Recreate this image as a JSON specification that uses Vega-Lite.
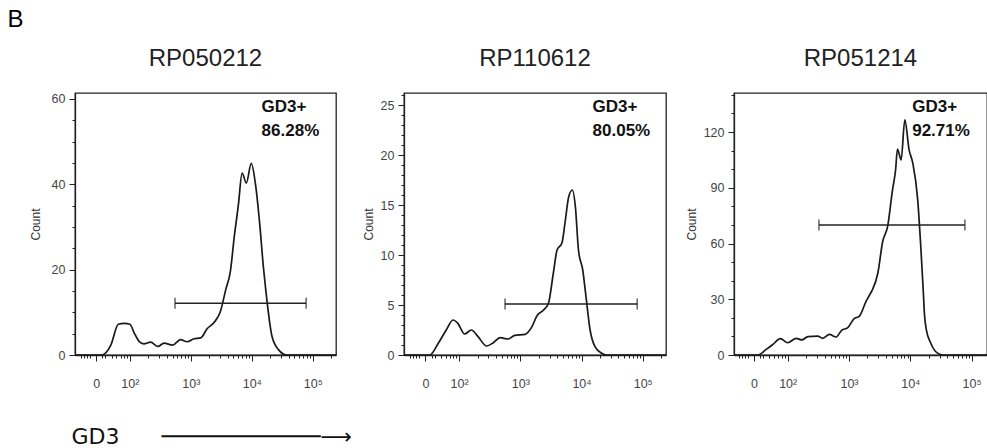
{
  "$schema": "https://vega.github.io/schema/vega-lite/v6.json",
  "padding": {"left": 7, "top": 8, "right": 0, "bottom": 0},
  "background": "white",
  "title": {"text": "B", "anchor": "start", "fontSize": 24, "font": "Liberation Sans", "fontWeight": "normal", "color": "#000", "offset": 14, "dx": -21},
  "datasets": {
    "curves": [
      {"s": "RP050212", "gd3": 1.10, "count": 0},
      {"s": "RP050212", "gd3": 1.53, "count": 0},
      {"s": "RP050212", "gd3": 1.69, "count": 2.4},
      {"s": "RP050212", "gd3": 1.81, "count": 7.2},
      {"s": "RP050212", "gd3": 1.91, "count": 7.4},
      {"s": "RP050212", "gd3": 2.00, "count": 7.2},
      {"s": "RP050212", "gd3": 2.07, "count": 5.2},
      {"s": "RP050212", "gd3": 2.15, "count": 3.2},
      {"s": "RP050212", "gd3": 2.23, "count": 2.6},
      {"s": "RP050212", "gd3": 2.34, "count": 3.0},
      {"s": "RP050212", "gd3": 2.46, "count": 2.0},
      {"s": "RP050212", "gd3": 2.56, "count": 2.8},
      {"s": "RP050212", "gd3": 2.70, "count": 2.3},
      {"s": "RP050212", "gd3": 2.83, "count": 3.6},
      {"s": "RP050212", "gd3": 2.94, "count": 3.1},
      {"s": "RP050212", "gd3": 3.05, "count": 3.8},
      {"s": "RP050212", "gd3": 3.16, "count": 4.0},
      {"s": "RP050212", "gd3": 3.27, "count": 6.2},
      {"s": "RP050212", "gd3": 3.38, "count": 7.6},
      {"s": "RP050212", "gd3": 3.48, "count": 10.0},
      {"s": "RP050212", "gd3": 3.57, "count": 15.2},
      {"s": "RP050212", "gd3": 3.65, "count": 19.8},
      {"s": "RP050212", "gd3": 3.71, "count": 27.5},
      {"s": "RP050212", "gd3": 3.78, "count": 35.3},
      {"s": "RP050212", "gd3": 3.84, "count": 42.6},
      {"s": "RP050212", "gd3": 3.91, "count": 40.3},
      {"s": "RP050212", "gd3": 3.99, "count": 44.9},
      {"s": "RP050212", "gd3": 4.06, "count": 40.0},
      {"s": "RP050212", "gd3": 4.13, "count": 30.6},
      {"s": "RP050212", "gd3": 4.19, "count": 20.5},
      {"s": "RP050212", "gd3": 4.22, "count": 16.4},
      {"s": "RP050212", "gd3": 4.26, "count": 11.2},
      {"s": "RP050212", "gd3": 4.33, "count": 4.4},
      {"s": "RP050212", "gd3": 4.44, "count": 1.2},
      {"s": "RP050212", "gd3": 4.57, "count": 0},
      {"s": "RP050212", "gd3": 5.38, "count": 0},
      {"s": "RP110612", "gd3": 1.10, "count": 0},
      {"s": "RP110612", "gd3": 1.52, "count": 0},
      {"s": "RP110612", "gd3": 1.66, "count": 1.17},
      {"s": "RP110612", "gd3": 1.79, "count": 2.5},
      {"s": "RP110612", "gd3": 1.90, "count": 3.5},
      {"s": "RP110612", "gd3": 1.98, "count": 3.17},
      {"s": "RP110612", "gd3": 2.09, "count": 2.1},
      {"s": "RP110612", "gd3": 2.20, "count": 2.5},
      {"s": "RP110612", "gd3": 2.31, "count": 1.83},
      {"s": "RP110612", "gd3": 2.45, "count": 0.9},
      {"s": "RP110612", "gd3": 2.56, "count": 1.23},
      {"s": "RP110612", "gd3": 2.67, "count": 1.73},
      {"s": "RP110612", "gd3": 2.80, "count": 1.6},
      {"s": "RP110612", "gd3": 2.91, "count": 1.97},
      {"s": "RP110612", "gd3": 3.08, "count": 2.07},
      {"s": "RP110612", "gd3": 3.19, "count": 2.83},
      {"s": "RP110612", "gd3": 3.27, "count": 3.9},
      {"s": "RP110612", "gd3": 3.38, "count": 4.5},
      {"s": "RP110612", "gd3": 3.46, "count": 5.17},
      {"s": "RP110612", "gd3": 3.54, "count": 8.2},
      {"s": "RP110612", "gd3": 3.60, "count": 10.5},
      {"s": "RP110612", "gd3": 3.68, "count": 11.2},
      {"s": "RP110612", "gd3": 3.73, "count": 13.2},
      {"s": "RP110612", "gd3": 3.79, "count": 15.8},
      {"s": "RP110612", "gd3": 3.85, "count": 16.5},
      {"s": "RP110612", "gd3": 3.90, "count": 14.8},
      {"s": "RP110612", "gd3": 3.95, "count": 10.5},
      {"s": "RP110612", "gd3": 4.02, "count": 8.5},
      {"s": "RP110612", "gd3": 4.07, "count": 6.0},
      {"s": "RP110612", "gd3": 4.14, "count": 2.5},
      {"s": "RP110612", "gd3": 4.22, "count": 0.83},
      {"s": "RP110612", "gd3": 4.33, "count": 0.17},
      {"s": "RP110612", "gd3": 4.41, "count": 0},
      {"s": "RP110612", "gd3": 5.38, "count": 0},
      {"s": "RP051214", "gd3": 1.125, "count": 0},
      {"s": "RP051214", "gd3": 1.51, "count": 0},
      {"s": "RP051214", "gd3": 1.65, "count": 3.0},
      {"s": "RP051214", "gd3": 1.76, "count": 5.7},
      {"s": "RP051214", "gd3": 1.88, "count": 8.8},
      {"s": "RP051214", "gd3": 2.00, "count": 6.6},
      {"s": "RP051214", "gd3": 2.14, "count": 9.0},
      {"s": "RP051214", "gd3": 2.23, "count": 8.1},
      {"s": "RP051214", "gd3": 2.33, "count": 9.9},
      {"s": "RP051214", "gd3": 2.49, "count": 10.2},
      {"s": "RP051214", "gd3": 2.57, "count": 9.0},
      {"s": "RP051214", "gd3": 2.68, "count": 11.1},
      {"s": "RP051214", "gd3": 2.79, "count": 9.7},
      {"s": "RP051214", "gd3": 2.88, "count": 13.3},
      {"s": "RP051214", "gd3": 2.98, "count": 14.7},
      {"s": "RP051214", "gd3": 3.08, "count": 19.5},
      {"s": "RP051214", "gd3": 3.17, "count": 20.9},
      {"s": "RP051214", "gd3": 3.28, "count": 29.0},
      {"s": "RP051214", "gd3": 3.33, "count": 32.0},
      {"s": "RP051214", "gd3": 3.38, "count": 35.0},
      {"s": "RP051214", "gd3": 3.47, "count": 44.0},
      {"s": "RP051214", "gd3": 3.55, "count": 61.2},
      {"s": "RP051214", "gd3": 3.63, "count": 69.2},
      {"s": "RP051214", "gd3": 3.71, "count": 89.0},
      {"s": "RP051214", "gd3": 3.76, "count": 99.7},
      {"s": "RP051214", "gd3": 3.79, "count": 110.8},
      {"s": "RP051214", "gd3": 3.85, "count": 105.0},
      {"s": "RP051214", "gd3": 3.91, "count": 126.5},
      {"s": "RP051214", "gd3": 3.98, "count": 110.4},
      {"s": "RP051214", "gd3": 4.04, "count": 103.3},
      {"s": "RP051214", "gd3": 4.12, "count": 83.6},
      {"s": "RP051214", "gd3": 4.17, "count": 58.5},
      {"s": "RP051214", "gd3": 4.21, "count": 35.0},
      {"s": "RP051214", "gd3": 4.23, "count": 22.0},
      {"s": "RP051214", "gd3": 4.26, "count": 13.8},
      {"s": "RP051214", "gd3": 4.33, "count": 6.6},
      {"s": "RP051214", "gd3": 4.47, "count": 0.5},
      {"s": "RP051214", "gd3": 4.55, "count": 0},
      {"s": "RP051214", "gd3": 5.25, "count": 0}
    ],
    "gates": [
      {"s": "RP050212", "lo": 2.74, "hi": 4.89, "level": 12.1},
      {"s": "RP110612", "lo": 2.75, "hi": 4.91, "level": 5.1},
      {"s": "RP051214", "lo": 2.51, "hi": 4.89, "level": 70}
    ],
    "labels": [
      {"s": "RP050212", "x": 4.16, "y": 60.0, "label": "GD3+\n86.28%"},
      {"s": "RP110612", "x": 4.18, "y": 25.6, "label": "GD3+\n80.05%"},
      {"s": "RP051214", "x": 4.03, "y": 138, "label": "GD3+\n92.71%"}
    ]
  },
  "hconcat": [
    {
      "title": "RP050212",
      "width": 261,
      "height": 262,
      "resolve": {"axis": {"x": "independent", "y": "independent"}},
      "layer": [
        {
          "data": {"name": "curves"},
          "transform": [{"filter": "datum.s == 'RP050212'"}],
          "mark": {"type": "line", "color": "#1a1a1a", "strokeWidth": 1.7, "interpolate": "monotone"},
          "encoding": {
            "x": {"field": "gd3", "type": "quantitative", "scale": {"domain": [1.1, 5.38], "nice": false, "zero": false},
              "axis": {"orient": "bottom", "values": [1.45, 2, 3, 4, 5], "labelExpr": "datum.value < 1.9 ? '0' : datum.value == 2 ? '10²' : datum.value == 3 ? '10³' : datum.value == 4 ? '10⁴' : '10⁵'",
                "title": "GD3\u00a0\u00a0\u00a0\u00a0\u00a0\u00a0────────────⟶", "titleFont": "DejaVu Sans", "titleAnchor": "start", "titleAlign": "left", "titleX": -4, "titleY": 88, "titleBaseline": "alphabetic", "titleFontSize": 22, "titleColor": "#111"}},
            "y": {"field": "count", "type": "quantitative", "scale": {"domain": [0, 61.4], "nice": false},
              "axis": {"orient": "left", "values": [0, 20, 40, 60], "title": "Count", "titlePadding": 9}}
          }
        },
        {
          "data": {"name": "gates"},
          "transform": [{"filter": "datum.s == 'RP050212'"}],
          "mark": {"type": "rule", "color": "#222", "strokeWidth": 1.5},
          "encoding": {
            "x": {"field": "lo", "type": "quantitative", "axis": {"orient": "bottom", "values": [1.2, 1.25, 1.3, 1.35, 1.55, 1.6, 1.7, 1.78, 1.85, 1.9, 1.95, 2.301, 2.477, 2.602, 2.699, 2.778, 2.845, 2.903, 2.954, 3.301, 3.477, 3.602, 3.699, 3.778, 3.845, 3.903, 3.954, 4.301, 4.477, 4.602, 4.699, 4.778, 4.845, 4.903, 4.954, 5.301], "labels": false, "domain": false, "tickSize": 3, "title": null}},
            "x2": {"field": "hi"},
            "y": {"field": "level", "type": "quantitative", "axis": {"orient": "left", "values": [0, 5, 10, 15, 25, 30, 35, 45, 50, 55], "labels": false, "domain": false, "tickSize": 3, "title": null}}
          }
        },
        {
          "data": {"name": "gates"},
          "transform": [{"filter": "datum.s == 'RP050212'"}, {"fold": ["lo", "hi"], "as": ["end", "pos"]}],
          "mark": {"type": "tick", "orient": "vertical", "color": "#222", "size": 11, "thickness": 1.5},
          "encoding": {
            "x": {"field": "pos", "type": "quantitative", "axis": null},
            "y": {"field": "level", "type": "quantitative", "axis": null}
          }
        },
        {
          "data": {"name": "labels"},
          "transform": [{"filter": "datum.s == 'RP050212'"}],
          "mark": {"type": "text", "align": "left", "baseline": "top", "lineBreak": "\n", "fontSize": 17, "fontWeight": "bold", "lineHeight": 24, "font": "Liberation Sans", "color": "#111"},
          "encoding": {
            "x": {"field": "x", "type": "quantitative", "axis": null},
            "y": {"field": "y", "type": "quantitative", "axis": null},
            "text": {"field": "label"}
          }
        }
      ]
    },
    {
      "title": "RP110612",
      "width": 262,
      "height": 262,
      "resolve": {"axis": {"x": "independent", "y": "independent"}},
      "layer": [
        {
          "data": {"name": "curves"},
          "transform": [{"filter": "datum.s == 'RP110612'"}],
          "mark": {"type": "line", "color": "#1a1a1a", "strokeWidth": 1.7, "interpolate": "monotone"},
          "encoding": {
            "x": {"field": "gd3", "type": "quantitative", "scale": {"domain": [1.1, 5.38], "nice": false, "zero": false},
              "axis": {"orient": "bottom", "values": [1.45, 2, 3, 4, 5], "labelExpr": "datum.value < 1.9 ? '0' : datum.value == 2 ? '10²' : datum.value == 3 ? '10³' : datum.value == 4 ? '10⁴' : '10⁵'", "title": null}},
            "y": {"field": "count", "type": "quantitative", "scale": {"domain": [0, 26.2], "nice": false},
              "axis": {"orient": "left", "values": [0, 5, 10, 15, 20, 25], "title": "Count", "titlePadding": 5}}
          }
        },
        {
          "data": {"name": "gates"},
          "transform": [{"filter": "datum.s == 'RP110612'"}],
          "mark": {"type": "rule", "color": "#222", "strokeWidth": 1.5},
          "encoding": {
            "x": {"field": "lo", "type": "quantitative", "axis": {"orient": "bottom", "values": [1.2, 1.25, 1.3, 1.35, 1.55, 1.6, 1.7, 1.78, 1.85, 1.9, 1.95, 2.301, 2.477, 2.602, 2.699, 2.778, 2.845, 2.903, 2.954, 3.301, 3.477, 3.602, 3.699, 3.778, 3.845, 3.903, 3.954, 4.301, 4.477, 4.602, 4.699, 4.778, 4.845, 4.903, 4.954, 5.301], "labels": false, "domain": false, "tickSize": 3, "title": null}},
            "x2": {"field": "hi"},
            "y": {"field": "level", "type": "quantitative", "axis": {"orient": "left", "values": [1, 2, 3, 4, 6, 7, 8, 9, 11, 12, 13, 14, 16, 17, 18, 19, 21, 22, 23, 24, 26], "labels": false, "domain": false, "tickSize": 3, "title": null}}
          }
        },
        {
          "data": {"name": "gates"},
          "transform": [{"filter": "datum.s == 'RP110612'"}, {"fold": ["lo", "hi"], "as": ["end", "pos"]}],
          "mark": {"type": "tick", "orient": "vertical", "color": "#222", "size": 11, "thickness": 1.5},
          "encoding": {
            "x": {"field": "pos", "type": "quantitative", "axis": null},
            "y": {"field": "level", "type": "quantitative", "axis": null}
          }
        },
        {
          "data": {"name": "labels"},
          "transform": [{"filter": "datum.s == 'RP110612'"}],
          "mark": {"type": "text", "align": "left", "baseline": "top", "lineBreak": "\n", "fontSize": 17, "fontWeight": "bold", "lineHeight": 24, "font": "Liberation Sans", "color": "#111"},
          "encoding": {
            "x": {"field": "x", "type": "quantitative", "axis": null},
            "y": {"field": "y", "type": "quantitative", "axis": null},
            "text": {"field": "label"}
          }
        }
      ]
    },
    {
      "title": "RP051214",
      "width": 253,
      "height": 262,
      "resolve": {"axis": {"x": "independent", "y": "independent"}},
      "layer": [
        {
          "data": {"name": "curves"},
          "transform": [{"filter": "datum.s == 'RP051214'"}],
          "mark": {"type": "line", "color": "#1a1a1a", "strokeWidth": 1.7, "interpolate": "monotone"},
          "encoding": {
            "x": {"field": "gd3", "type": "quantitative", "scale": {"domain": [1.125, 5.25], "nice": false, "zero": false},
              "axis": {"orient": "bottom", "values": [1.45, 2, 3, 4, 5], "labelExpr": "datum.value < 1.9 ? '0' : datum.value == 2 ? '10²' : datum.value == 3 ? '10³' : datum.value == 4 ? '10⁴' : '10⁵'", "title": null}},
            "y": {"field": "count", "type": "quantitative", "scale": {"domain": [0, 141], "nice": false},
              "axis": {"orient": "left", "values": [0, 30, 60, 90, 120], "title": "Count", "titlePadding": 5}}
          }
        },
        {
          "data": {"name": "gates"},
          "transform": [{"filter": "datum.s == 'RP051214'"}],
          "mark": {"type": "rule", "color": "#222", "strokeWidth": 1.5},
          "encoding": {
            "x": {"field": "lo", "type": "quantitative", "axis": {"orient": "bottom", "values": [1.2, 1.25, 1.3, 1.35, 1.55, 1.6, 1.7, 1.78, 1.85, 1.9, 1.95, 2.301, 2.477, 2.602, 2.699, 2.778, 2.845, 2.903, 2.954, 3.301, 3.477, 3.602, 3.699, 3.778, 3.845, 3.903, 3.954, 4.301, 4.477, 4.602, 4.699, 4.778, 4.845, 4.903, 4.954], "labels": false, "domain": false, "tickSize": 3, "title": null}},
            "x2": {"field": "hi"},
            "y": {"field": "level", "type": "quantitative", "axis": {"orient": "left", "values": [10, 20, 40, 50, 70, 80, 100, 110, 130, 140], "labels": false, "domain": false, "tickSize": 3, "title": null}}
          }
        },
        {
          "data": {"name": "gates"},
          "transform": [{"filter": "datum.s == 'RP051214'"}, {"fold": ["lo", "hi"], "as": ["end", "pos"]}],
          "mark": {"type": "tick", "orient": "vertical", "color": "#222", "size": 11, "thickness": 1.5},
          "encoding": {
            "x": {"field": "pos", "type": "quantitative", "axis": null},
            "y": {"field": "level", "type": "quantitative", "axis": null}
          }
        },
        {
          "data": {"name": "labels"},
          "transform": [{"filter": "datum.s == 'RP051214'"}],
          "mark": {"type": "text", "align": "left", "baseline": "top", "lineBreak": "\n", "fontSize": 17, "fontWeight": "bold", "lineHeight": 24, "font": "Liberation Sans", "color": "#111"},
          "encoding": {
            "x": {"field": "x", "type": "quantitative", "axis": null},
            "y": {"field": "y", "type": "quantitative", "axis": null},
            "text": {"field": "label"}
          }
        }
      ]
    }
  ],
  "spacing": 68,
  "bounds": "flush",
  "config": {
    "view": {"stroke": "#222", "strokeWidth": 1.3},
    "title": {"fontSize": 24, "fontWeight": "normal", "font": "Liberation Sans", "color": "#222", "offset": 22},
    "axis": {"grid": false, "domainColor": "#222", "domainWidth": 1.3, "tickColor": "#222", "tickSize": 6, "labelColor": "#444", "labelFont": "Liberation Sans", "labelFontSize": 12.5, "labelPadding": 4, "titleFont": "Liberation Sans", "titleFontSize": 12, "titleFontWeight": "normal", "titleColor": "#333"},
    "axisX": {"labelPadding": 16, "labelFontSize": 12.5}
  }
}
